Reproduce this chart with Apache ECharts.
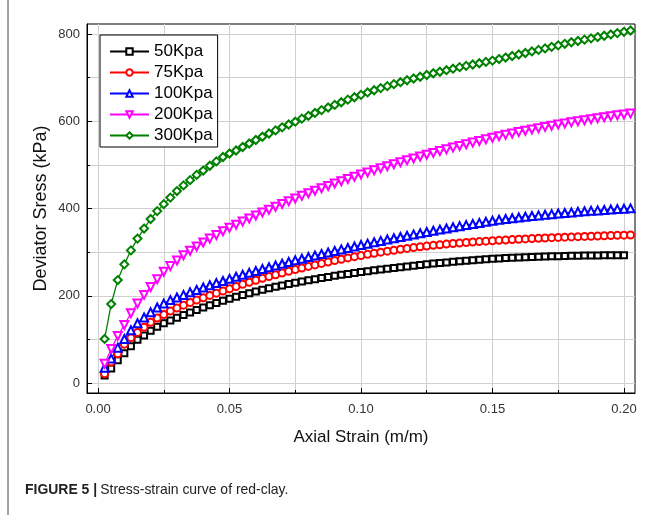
<!DOCTYPE html>
<html>
<head>
<meta charset="utf-8">
<title>Stress-strain curve of red-clay</title>
<script src="https://cdn.jsdelivr.net/npm/echarts@6/dist/echarts.min.js"></script>
<style>
  html, body { margin: 0; padding: 0; background: #fff; }
  #chart { width: 657px; height: 515px; }
</style>
</head>
<body>
<div id="chart"></div>
<script>
// Axial strain sampling points (m/m)
const strain = [
  0.0025, 0.005, 0.0075, 0.01, 0.0125, 0.015, 0.0175, 0.02, 0.0225, 0.025,
  0.0275, 0.03, 0.0325, 0.035, 0.0375, 0.04, 0.0425, 0.045, 0.0475, 0.05,
  0.0525, 0.055, 0.0575, 0.06, 0.0625, 0.065, 0.0675, 0.07, 0.0725, 0.075,
  0.0775, 0.08, 0.0825, 0.085, 0.0875, 0.09, 0.0925, 0.095, 0.0975, 0.1,
  0.1025, 0.105, 0.1075, 0.11, 0.1125, 0.115, 0.1175, 0.12, 0.1225, 0.125,
  0.1275, 0.13, 0.1325, 0.135, 0.1375, 0.14, 0.1425, 0.145, 0.1475, 0.15,
  0.1525, 0.155, 0.1575, 0.16, 0.1625, 0.165, 0.1675, 0.17, 0.1725, 0.175,
  0.1775, 0.18, 0.1825, 0.185, 0.1875, 0.19, 0.1925, 0.195, 0.1975, 0.2,
  0.2025
];

// Deviator stress (kPa) for each confining pressure
const stress50 = [
  17, 33, 52, 68, 84, 99, 109, 119.5, 129, 137,
  143.5, 149.8, 155.9, 161.8, 167.5, 173, 178.3, 183.4, 188.3, 193,
  197.5, 201.8, 205.9, 209.8, 213.5, 217, 220.4, 223.6, 226.7, 229.7,
  232.6, 235.4, 238.1, 240.7, 243.2, 245.6, 247.9, 250.1, 252.2, 254.2,
  256.2, 258.2, 260.1, 262, 263.8, 265.6, 267.3, 269, 270.6, 272.2,
  273.7, 275.1, 276.5, 277.8, 279.1, 280.3, 281.5, 282.6, 283.7, 284.7,
  285.6, 286.4, 287.1, 287.8, 288.4, 289, 289.5, 290, 290.4, 290.8,
  291.2, 291.5, 291.8, 292.1, 292.3, 292.5, 292.7, 292.8, 292.9, 293
];
const stress75 = [
  21, 48, 67, 89, 104, 116, 128, 139, 149, 157,
  165, 172, 178.5, 184.5, 190, 195.5, 200.8, 206, 211, 216,
  221.2, 226.2, 231, 235.6, 240, 244.2, 248.2, 252.2, 256.1, 259.9,
  263.6, 267.2, 270.7, 274.1, 277.4, 280.6, 283.7, 286.7, 289.6, 292.4,
  295, 297.5, 299.9, 302.2, 304.4, 306.5, 308.5, 310.4, 312.2, 313.9,
  315.5, 317, 318.4, 319.7, 320.9, 322.1, 323.2, 324.2, 325.2, 326.1,
  327, 327.9, 328.7, 329.5, 330.3, 331, 331.7, 332.4, 333.1, 333.7,
  334.3, 334.9, 335.5, 336, 336.5, 337, 337.5, 338, 338.5, 338.9,
  339.3
];
const stress100 = [
  35, 56, 81, 101, 121, 137, 150, 162, 173, 182,
  190, 196, 202, 207.8, 213.4, 218.8, 224, 229, 233.9, 238.7,
  243.4, 248, 252.5, 256.9, 261.2, 265.4, 269.5, 273.5, 277.4, 281.2,
  284.9, 288.6, 292.2, 295.8, 299.3, 302.8, 306.2, 309.6, 312.9, 316.2,
  319.4, 322.6, 325.7, 328.8, 331.8, 334.8, 337.7, 340.6, 343.4, 346.2,
  348.9, 351.6, 354.3, 356.9, 359.5, 362, 364.5, 367, 369.4, 371.8,
  374.1, 376, 377.8, 379.5, 381.1, 382.7, 384.2, 385.7, 387.1, 388.5,
  389.8, 391.1, 392.3, 393.5, 394.6, 395.7, 396.7, 397.7, 398.6, 399.5,
  400.3
];
const stress200 = [
  44, 78, 108, 133, 160, 182, 202, 220, 238, 255,
  268, 281, 293, 303, 313, 322, 331, 339, 348, 356,
  363, 370, 377, 384, 391, 397, 404, 410.5, 416.8, 423,
  429, 434.9, 440.7, 446.3, 451.8, 457.2, 462.5, 467.7, 472.8, 477.8,
  482.7, 487.5, 492.2, 496.9, 501.5, 506, 510.4, 514.8, 519.1, 523.3,
  527.5, 531.6, 535.6, 539.6, 543.5, 547.3, 551.1, 554.8, 558.5, 562.1,
  565.6, 568.8, 572, 575.1, 578.2, 581.2, 584.1, 587, 589.8, 592.4,
  595, 597.5, 600, 602.4, 604.7, 607, 609.2, 611.4, 613.5, 615.5,
  617.5
];
const stress300 = [
  101, 181, 236, 272, 304, 331, 354, 376, 394, 410,
  425, 440, 453, 465, 477, 487, 498, 508, 518, 526,
  533, 541, 549, 557, 564.5, 572, 579, 586, 592.5, 599,
  606, 612.5, 619, 625.5, 631.5, 637.5, 643.5, 649.5, 655, 660.5,
  666, 671, 676, 680.5, 685, 689.5, 694, 698, 702, 706,
  710, 713.5, 717, 720.5, 724, 727, 730, 733, 736, 739,
  742.5, 746, 749.5, 753, 756.5, 760, 763.5, 767, 770.5, 774,
  777.5, 781, 784, 787, 790, 793, 796, 799, 802, 805,
  808
];

const seriesNames = ['50Kpa', '75Kpa', '100Kpa', '200Kpa', '300Kpa'];
const seriesValues = [stress50, stress75, stress100, stress200, stress300];

// Axis ticks
const xMajorTicks = [0, 0.05, 0.1, 0.15, 0.2];
const xMinorTicks = [0.025, 0.075, 0.125, 0.175];
const yMajorTicks = [0, 200, 400, 600, 800];
const yMinorTicks = [100, 300, 500, 700];

const FONT = '"Liberation Sans", Arial, Helvetica, sans-serif';
const colors = ['#000000', '#ff0000', '#0000ff', '#ff00ff', '#008000'];
const symbols = ['emptyRect', 'emptyCircle', 'emptyTriangle', 'emptyTriangle', 'emptyDiamond'];
const symbolRotations = [0, 0, 0, 180, 0];
const symbolSizes = [6, 7, 8, 8, 8];

const X_MIN = -0.0042, X_MAX = 0.2042;
const Y_MIN = -22.9, Y_MAX = 822.9;

const gridColor = '#cfcfcf';

function xAxisBase(ticks, tickLen, withLabels) {
  return {
    type: 'value', min: X_MIN, max: X_MAX, position: 'bottom',
    axisLine: { show: withLabels, onZero: false, lineStyle: { color: '#000', width: 1 } },
    axisTick: { show: true, inside: true, length: tickLen, customValues: ticks, lineStyle: { color: '#000', width: 1 } },
    axisLabel: {
      show: withLabels, customValues: ticks, margin: 10,
      fontFamily: FONT, fontSize: 13, color: '#333',
      formatter: v => Number(v).toFixed(2)
    },
    splitLine: { show: true, lineStyle: { color: gridColor, width: 1 } },
    name: withLabels ? 'Axial Strain (m/m)' : '',
    nameLocation: 'middle', nameGap: 36,
    nameTextStyle: { fontFamily: FONT, fontSize: 17, color: '#111' }
  };
}
function yAxisBase(ticks, tickLen, withLabels) {
  return {
    type: 'value', min: Y_MIN, max: Y_MAX, position: 'left',
    axisLine: { show: withLabels, onZero: false, lineStyle: { color: '#000', width: 1 } },
    axisTick: { show: true, inside: true, length: tickLen, customValues: ticks, lineStyle: { color: '#000', width: 1 } },
    axisLabel: {
      show: withLabels, customValues: ticks, margin: 7,
      fontFamily: FONT, fontSize: 13, color: '#333',
      formatter: v => String(Math.round(v))
    },
    splitLine: { show: true, lineStyle: { color: gridColor, width: 1 } },
    name: withLabels ? 'Deviator Sress (kPa)' : '',
    nameLocation: 'middle', nameGap: 37, nameMoveOverlap: false,
    nameTextStyle: { fontFamily: FONT, fontSize: 18, color: '#111' }
  };
}

const series = seriesNames.map((name, i) => ({
  name,
  type: 'line',
  data: seriesValues[i].map((v, j) => [strain[j], v]),
  symbol: symbols[i],
  symbolRotate: symbolRotations[i],
  symbolSize: symbolSizes[i],
  showAllSymbol: true,
  clip: true,
  lineStyle: { color: colors[i], width: 1.3 },
  itemStyle: { color: colors[i], borderColor: colors[i], borderWidth: 1 },
  emphasis: { disabled: true },
  animation: false
}));

const chart = echarts.init(document.getElementById('chart'), null, { renderer: 'canvas' });
chart.setOption({
  backgroundColor: '#ffffff',
  animation: false,
  grid: {
    left: 87, right: 22, top: 24, bottom: 122,
    show: true, borderColor: '#000', borderWidth: 1, backgroundColor: 'transparent'
  },
  xAxis: [xAxisBase(xMajorTicks, 5, true), xAxisBase(xMinorTicks, 3, false)],
  yAxis: [yAxisBase(yMajorTicks, 5, true), yAxisBase(yMinorTicks, 3, false)],
  legend: {
    orient: 'vertical', left: 100, top: 35,
    data: seriesNames,
    itemWidth: 39, itemHeight: 8, itemGap: 4,
    padding: [8, 5, 3, 9],
    borderColor: '#000', borderWidth: 1, backgroundColor: '#fff',
    textStyle: { fontFamily: FONT, fontSize: 17, color: '#000' },
    selectedMode: false
  },
  graphic: [
    { type: 'line', shape: { x1: 8, y1: 0, x2: 8, y2: 515 }, style: { stroke: '#444', lineWidth: 1 } },
    {
      type: 'text', x: 25, y: 482, scaleX: 0.93,
      style: {
        rich: {
          b: { fontFamily: FONT, fontWeight: 'bold', fontSize: 15, fill: '#222' },
          n: { fontFamily: FONT, fontSize: 15, fill: '#222' }
        },
        text: '{b|FIGURE 5 |} {n|Stress-strain curve of red-clay.}'
      }
    }
  ],
  series
});
</script>
</body>
</html>
